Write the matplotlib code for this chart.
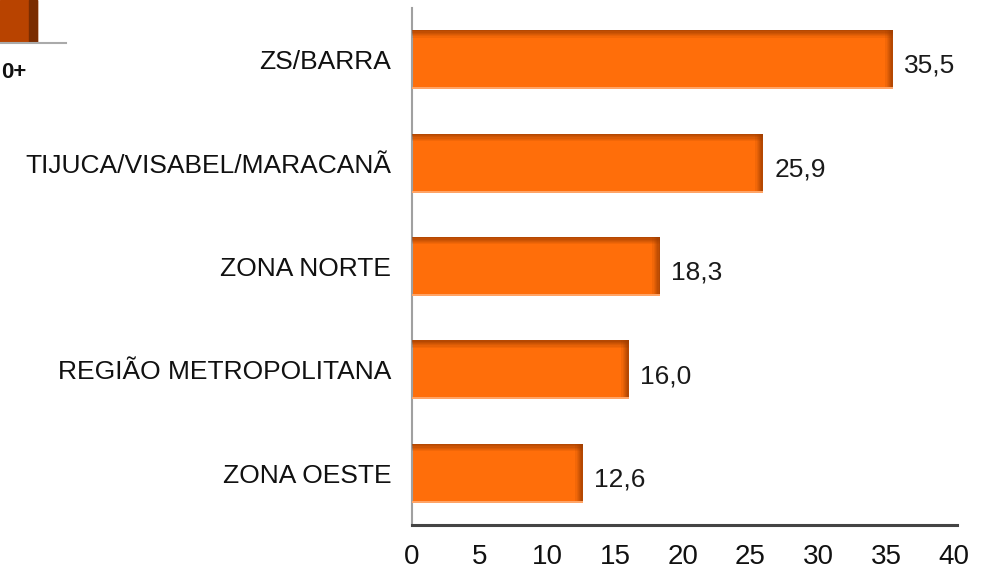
import matplotlib
matplotlib.use("Agg")
import matplotlib.pyplot as plt
from matplotlib.patches import Rectangle

# -- Data ----------------------------------------------------------------------

REGIONS = [
    "ZS/BARRA",
    "TIJUCA/VISABEL/MARACANÃ",
    "ZONA NORTE",
    "REGIÃO METROPOLITANA",
    "ZONA OESTE",
]
VALUES = [35.5, 25.9, 18.3, 16.0, 12.6]
X_TICKS = [0, 5, 10, 15, 20, 25, 30, 35, 40]

# -- Style ---------------------------------------------------------------------

plt.rcParams["font.family"] = ["Liberation Sans", "DejaVu Sans"]
ORANGE = "#ff6e0a"
DARK = "#9c3c00"
BAR_H = 0.57

# -- Plot ----------------------------------------------------------------------

fig = plt.figure(figsize=(9.81, 5.70), dpi=100)
ax = fig.add_axes([412 / 981, 1 - 525 / 570, 545 / 981, 517 / 570])

ypos = list(range(len(REGIONS)))
ax.barh(ypos, VALUES, height=BAR_H, color=ORANGE, zorder=2, linewidth=0)

# soft darker shading along the top and right edge of each bar
n_steps = 6
for i in range(n_steps):
    a = 0.75 * (1 - i / n_steps)
    ax.barh([y - BAR_H / 2 + 0.012 * (i + 0.5) for y in ypos], VALUES,
            height=0.012, color=DARK, alpha=a, zorder=3, linewidth=0)
    w = 0.09
    ax.barh(ypos, [w] * len(VALUES), left=[v - w * (i + 1) for v in VALUES],
            height=BAR_H, color=DARK, alpha=a, zorder=3, linewidth=0)
ax.barh([y + BAR_H / 2 - 0.01 for y in ypos], VALUES, height=0.02,
        color="#ffa466", zorder=3, linewidth=0)

for y, v in zip(ypos, VALUES):
    ax.text(v + 0.85, y + 0.06, f"{v:.1f}".replace(".", ","),
            va="center", ha="left", fontsize=19, color="#1a1a1a")

ax.set_ylim(len(REGIONS) - 0.5, -0.5)
ax.set_xlim(0, 40.25)
ax.set_yticks(ypos)
ax.set_yticklabels(REGIONS, fontsize=19, color="#111111")
ax.set_xticks(X_TICKS)
ax.set_xticklabels([str(t) for t in X_TICKS], fontsize=20, color="#111111")
ax.tick_params(axis="y", length=0, pad=15)
ax.tick_params(axis="x", length=0, pad=14)

for side in ["top", "right"]:
    ax.spines[side].set_visible(False)
ax.spines["left"].set_color("#a0a0a0")
ax.spines["left"].set_linewidth(1.5)
ax.spines["bottom"].set_color("#444444")
ax.spines["bottom"].set_linewidth(2.2)

# fragment of a neighbouring chart in the top-left corner
fig.patches.append(Rectangle((0, 1 - 42 / 570), 37 / 981, 42 / 570,
                             transform=fig.transFigure, color="#b84300"))
fig.patches.append(Rectangle((29 / 981, 1 - 42 / 570), 8 / 981, 42 / 570,
                             transform=fig.transFigure, color="#7a2c00"))
fig.lines.append(plt.Line2D([0, 66 / 981], [1 - 43 / 570, 1 - 43 / 570],
                            transform=fig.transFigure, color="#aaaaaa", lw=1.5))
fig.text(1 / 981, 1 - 73 / 570, "0+", fontsize=16, fontweight="bold",
         va="center", ha="left", color="#111111")

fig.savefig("out.png", dpi=100)
